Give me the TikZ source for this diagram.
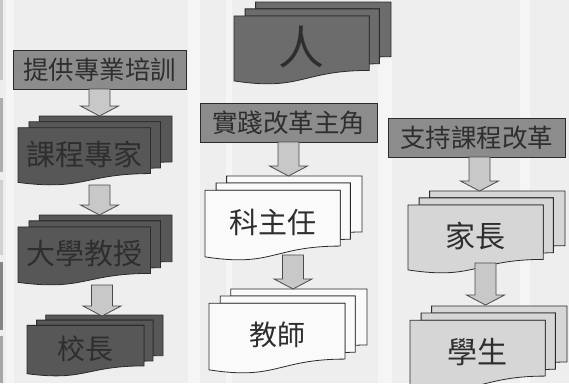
\documentclass[tikz,border=0pt]{standalone}
\usepackage{fontspec}
\setmainfont{Noto Sans CJK TC}
\definecolor{bgc}{HTML}{EEEEEE}
\definecolor{stripec}{HTML}{F5F5F5}
\definecolor{darkc}{HTML}{575757}
\definecolor{renc}{HTML}{6C6C6C}
\definecolor{labelc}{HTML}{8C8C8C}
\definecolor{arrowc}{HTML}{C8C8C8}
\definecolor{arrowedge}{HTML}{4A4A4A}
\definecolor{whitec}{HTML}{FAFAFA}
\definecolor{greyc}{HTML}{D6D6D6}
\definecolor{edgec}{HTML}{2B2B2B}
\definecolor{textc}{HTML}{2E2E2E}
\tikzset{
  sheet/.style={draw=edgec, line width=0.8pt, line join=miter},
  labelbox/.style={draw=edgec, fill=labelc, line width=0.8pt, inner sep=0pt,
    text=textc, font=\fontsize{25.5}{26}\selectfont},
  barrow/.style={draw=arrowedge, fill=arrowc, line width=0.8pt, line join=miter},
  doctext/.style={inner sep=0pt, text=textc}
}
% #1 name, #2 x0, #3 y0, #4 W, #5 H, #6 fill, #7 font size, #8 text
\newcommand\mdoc[8]{%
  \begin{scope}[shift={(#2,#3)}, xscale=#4/216, yscale=#5/216]
    \filldraw[sheet, fill=#6] (29.72,18.15) -- (29.72,0) -- (216,0) -- (216,143.92)
      .. controls (208,143.92) and (200,144.67) .. (200,144.67) -- (200,18.15) -- cycle;
    \filldraw[sheet, fill=#6] (15.32,36.75) -- (15.32,18.15) -- (200,18.15) -- (200,162.52)
      .. controls (192.98,162.52) and (185.95,163.52) .. (185.95,163.52) -- (185.95,36.75) -- cycle;
    \filldraw[sheet, fill=#6] (0,207.82) .. controls (92.98,235.42) and (92.98,180.22) .. (185.95,180.22)
      -- (185.95,36.75) -- (0,36.75) -- cycle;
  \end{scope}
  \node[doctext, font=\fontsize{#7}{#7}\selectfont] (#1) at ({#2+0.4305*#4}, {#3+0.55*#5}) {#8};
}
% #1 centre x, #2 top y, #3 tip y
\newcommand\dnarrow[3]{%
  \draw[barrow] ({#1-10.5},#2) -- ({#1+10.5},#2) -- ({#1+10.5},{#3-10}) -- ({#1+19},{#3-10})
    -- (#1,#3) -- ({#1-19},{#3-10}) -- ({#1-10.5},{#3-10}) -- cycle;
}
\begin{document}
\begin{tikzpicture}[x=1pt, y=-1pt]
  \useasboundingbox (0,0) rectangle (569,383);
  \fill[bgc] (0,0) rectangle (569,383);
  % background stripes
  \foreach \a/\b in {6/14, 188/200, 226/232, 378/392, 520/530}
    \fill[stripec] (\a,0) rectangle (\b,383);
  % left edge bars
  \fill[black!22] (0,0) rectangle (3,80);
  \fill[black!32] (0,98) rectangle (3,172);
  \fill[black!18] (0,180) rectangle (3,255);
  \fill[black!48] (0,262) rectangle (3,330);
  \fill[black!35] (0,336) rectangle (3,383);

  % document stacks
  \mdoc{kc}{18}{116}{154}{69}{darkc}{29}{課程專家}
  \mdoc{dx}{18}{215}{154}{70}{darkc}{29}{大學教授}
  \mdoc{xz}{27}{315}{136}{61}{darkc}{28}{校長}
  \mdoc{ren}{234}{2}{157}{82}{renc}{46}{人}
  \mdoc{kzr}{205}{176}{157}{84}{whitec}{29}{科主任}
  \mdoc{js}{209}{289}{158}{84}{whitec}{28}{教師}
  \mdoc{jz}{408}{191}{157}{82}{greyc}{30}{家長}
  \mdoc{xs}{410}{306}{157}{84}{greyc}{30}{學生}

  % label boxes
  \node[labelbox, minimum width=172.7, minimum height=38.6] (l1) at (99.65,70) {提供專業培訓};
  \node[labelbox, minimum width=177, minimum height=39] (l2) at (288.5,122.5) {實踐改革主角};
  \node[labelbox, minimum width=177, minimum height=39] (l3) at (476.5,137.5) {支持課程改革};

  % block arrows
  \dnarrow{99.5}{89}{116}
  \dnarrow{99.5}{185}{215}
  \dnarrow{102}{285}{316}
  \dnarrow{288.5}{142}{176}
  \dnarrow{293}{255}{289}
  \dnarrow{479.5}{157}{191}
  \dnarrow{485.5}{263}{305}
\end{tikzpicture}
\end{document}
